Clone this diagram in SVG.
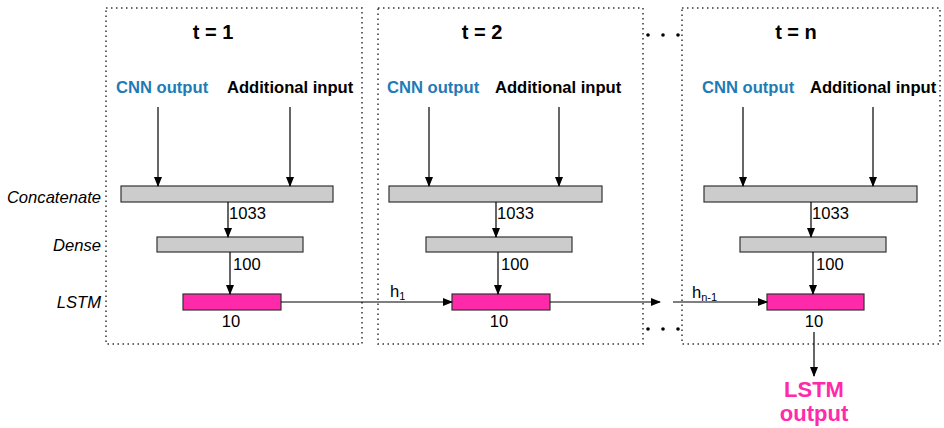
<svg xmlns="http://www.w3.org/2000/svg" width="944" height="428" viewBox="0 0 944 428">
<defs>
<marker id="ah" markerWidth="10" markerHeight="8" refX="9" refY="4" orient="auto" markerUnits="userSpaceOnUse">
<path d="M0,0 L10,4 L0,8 Z" fill="#000"/>
</marker>
<style>
.frame{fill:none;stroke:#333;stroke-width:1.5;stroke-dasharray:1.5 3.5}
.gray{fill:#cccccc;stroke:#333;stroke-width:1.2}
.pink{fill:#ff2aaa;stroke:#333;stroke-width:1.2}
.title{font-family:"Liberation Sans",Arial,sans-serif;font-weight:bold;font-size:20px;fill:#000}
.cnn{font-family:"Liberation Sans",Arial,sans-serif;font-weight:bold;font-size:16.6px;fill:#1f7bb6}
.add{font-family:"Liberation Sans",Arial,sans-serif;font-weight:bold;font-size:16.6px;fill:#000}
.num{font-family:"Liberation Sans",Arial,sans-serif;font-size:16.6px;fill:#000}
.side{font-family:"Liberation Sans",Arial,sans-serif;font-style:italic;font-size:16.6px;fill:#000;text-anchor:end}
.out{font-family:"Liberation Sans",Arial,sans-serif;font-weight:bold;font-size:22px;fill:#ff2aaa;text-anchor:middle}
.conn line{stroke:#000;stroke-width:1.2;marker-end:url(#ah)}
.dot{fill:#000}
</style>
</defs>
<rect width="944" height="428" fill="#fff"/>

<g id="frames">
<rect class="frame" x="106" y="8" width="256" height="336"/>
<rect class="frame" x="378" y="8" width="265" height="336"/>
<rect class="frame" x="682" y="8" width="258" height="336"/>
<circle class="dot" cx="648" cy="35" r="1.8"/><circle class="dot" cx="663" cy="35" r="1.8"/><circle class="dot" cx="678" cy="35" r="1.8"/>
<circle class="dot" cx="648" cy="329" r="1.8"/><circle class="dot" cx="663" cy="329" r="1.8"/><circle class="dot" cx="678" cy="329" r="1.8"/>
</g>

<g id="side-labels">
<text class="side" x="101" y="203">Concatenate</text>
<text class="side" x="101" y="251">Dense</text>
<text class="side" x="101" y="308">LSTM</text>
</g>

<g id="step1">
<text class="title" x="213" y="39" text-anchor="middle">t = 1</text>
<text class="cnn" x="116" y="93">CNN output</text>
<text class="add" x="227" y="93">Additional input</text>
<rect id="concat1" class="gray" x="121" y="186" width="212" height="16"/>
<rect id="dense1" class="gray" x="157" y="237" width="146" height="15"/>
<rect id="lstm1" class="pink" x="183" y="294" width="98" height="16"/>
<text class="num" x="229" y="219">1033</text>
<text class="num" x="233" y="270">100</text>
<text class="num" x="231" y="327" text-anchor="middle">10</text>
</g>

<g id="step2">
<text class="title" x="482" y="39" text-anchor="middle">t = 2</text>
<text class="cnn" x="387" y="93">CNN output</text>
<text class="add" x="495" y="93">Additional input</text>
<rect id="concat2" class="gray" x="389" y="186" width="213" height="16"/>
<rect id="dense2" class="gray" x="426" y="237" width="146" height="15"/>
<rect id="lstm2" class="pink" x="452" y="294" width="98" height="16"/>
<text class="num" x="497" y="219">1033</text>
<text class="num" x="501" y="270">100</text>
<text class="num" x="499" y="327" text-anchor="middle">10</text>
</g>

<g id="step3">
<text class="title" x="796" y="39" text-anchor="middle">t = n</text>
<text class="cnn" x="702" y="93">CNN output</text>
<text class="add" x="810" y="93">Additional input</text>
<rect id="concat3" class="gray" x="704" y="186" width="213" height="16"/>
<rect id="dense3" class="gray" x="740" y="237" width="146" height="15"/>
<rect id="lstm3" class="pink" x="767" y="294" width="97" height="16"/>
<text class="num" x="812" y="219">1033</text>
<text class="num" x="816" y="270">100</text>
<text class="num" x="814" y="327" text-anchor="middle">10</text>
</g>

<g id="output">
<text class="out" x="814" y="397">LSTM</text>
<text class="out" x="814" y="421">output</text>
</g>

<g id="connectors" class="conn">
<line x1="158" y1="107" x2="158" y2="186"/>
<line x1="290" y1="107" x2="290" y2="186"/>
<line x1="228" y1="202" x2="228" y2="237"/>
<line x1="230" y1="252" x2="230" y2="294"/>
<line x1="429" y1="107" x2="429" y2="186"/>
<line x1="559" y1="107" x2="559" y2="186"/>
<line x1="496" y1="202" x2="496" y2="237"/>
<line x1="498" y1="252" x2="498" y2="294"/>
<line x1="743" y1="107" x2="743" y2="186"/>
<line x1="873" y1="107" x2="873" y2="186"/>
<line x1="811" y1="202" x2="811" y2="237"/>
<line x1="813" y1="252" x2="813" y2="294"/>
<line x1="281" y1="302" x2="452" y2="302"/>
<line x1="550" y1="302" x2="660" y2="302"/>
<line x1="673" y1="302" x2="767" y2="302"/>
<line x1="814" y1="332" x2="814" y2="376"/>
</g>

<g id="h-labels">
<text class="num" x="390" y="297" font-size="16">h<tspan font-size="11" dy="3">1</tspan></text>
<text class="num" x="692" y="298" font-size="16">h<tspan font-size="11" dy="3">n-1</tspan></text>
</g>
</svg>
